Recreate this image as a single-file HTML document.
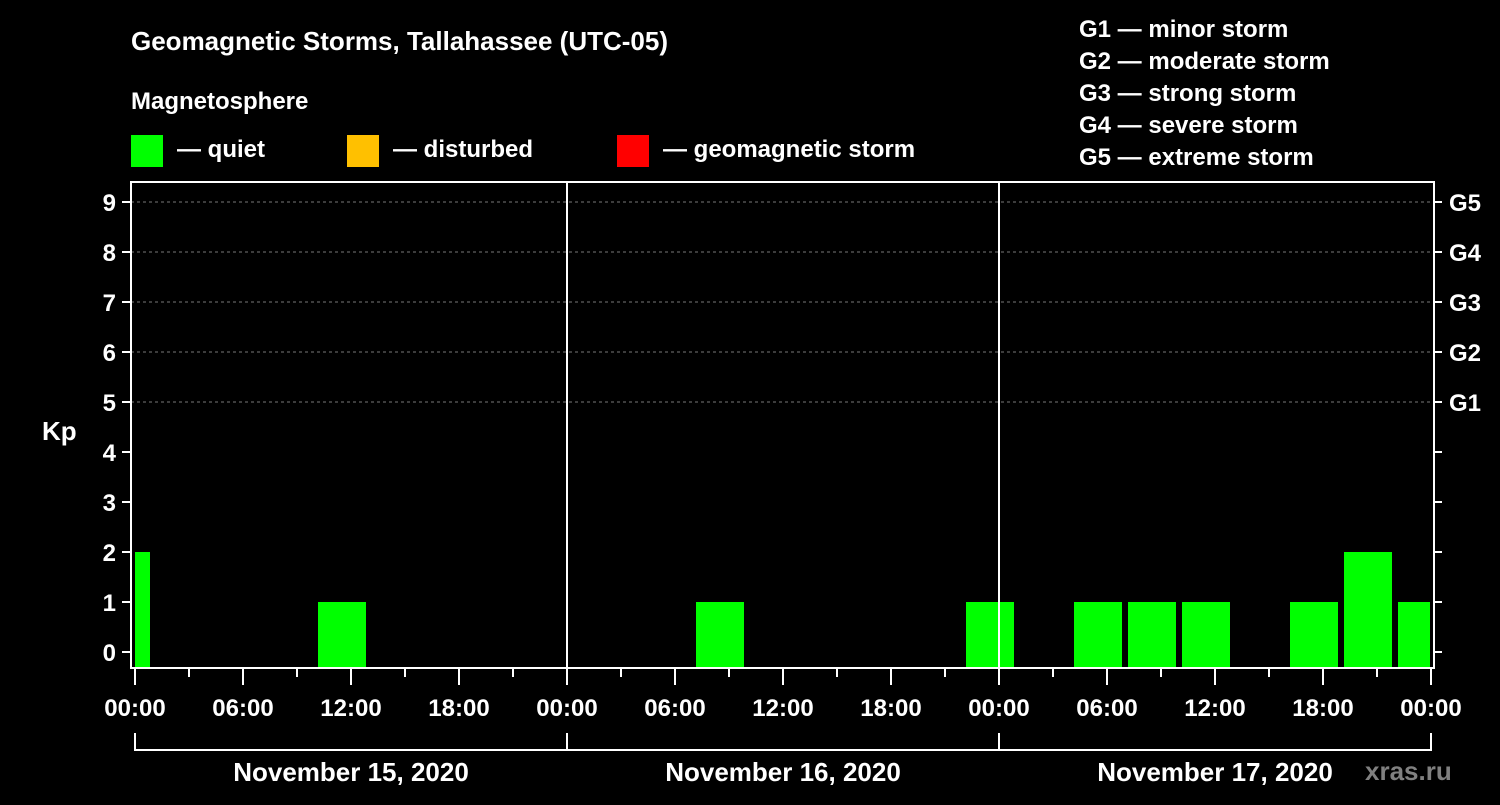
<!DOCTYPE html>
<html><head><meta charset="utf-8"><style>
body{margin:0;background:#000;width:1500px;height:800px;overflow:hidden}
svg text{font-family:"Liberation Sans",Arial,sans-serif;font-weight:bold;fill:#fff}
</style></head><body>
<svg id="c" width="1500" height="800">
<text x="131" y="50" font-size="26">Geomagnetic Storms, Tallahassee (UTC-05)</text>
<text x="131" y="109" font-size="24">Magnetosphere</text>
<g>
<rect x="131" y="135" width="32" height="32" fill="#00ff00"/>
<text x="177" y="157" font-size="24">— quiet</text>
<rect x="347" y="135" width="32" height="32" fill="#ffc000"/>
<text x="393" y="157" font-size="24">— disturbed</text>
<rect x="617" y="135" width="32" height="32" fill="#ff0000"/>
<text x="663" y="157" font-size="24">— geomagnetic storm</text>
</g>
<g font-size="24">
<text x="1079" y="37" font-size="24">G1 — minor storm</text>
<text x="1079" y="69" font-size="24">G2 — moderate storm</text>
<text x="1079" y="101" font-size="24">G3 — strong storm</text>
<text x="1079" y="133" font-size="24">G4 — severe storm</text>
<text x="1079" y="165" font-size="24">G5 — extreme storm</text>
</g>
<text x="42" y="440" font-size="26">Kp</text>
<text x="1365" y="780" font-size="26" fill="#777" style="fill:#808080">xras.ru</text>
<g id="plot"></g>
</svg>
<script>
const days = ["November 15, 2020","November 16, 2020","November 17, 2020"];
const binStartHours = [-2,10,31,46,52,55,58,64,67,70];
const kpValues = [2,1,1,1,1,1,1,1,2,1];
const hourTicks = ["00:00","06:00","12:00","18:00","00:00","06:00","12:00","18:00","00:00","06:00","12:00","18:00","00:00"];
const kpTicks = [0,1,2,3,4,5,6,7,8,9];
const gLabels = ["G1","G2","G3","G4","G5"];
const gLevels = [5,6,7,8,9];

const ns="http://www.w3.org/2000/svg", g=document.getElementById('plot');
const X0=135, PX_H=18, Y0=652, PX_K=50, TOP=182, BOT=668, L=131, R=1434;
const xs=h=>X0+h*PX_H, ys=k=>Y0-k*PX_K;
function mk(t,a,txt){const e=document.createElementNS(ns,t);for(const k in a)e.setAttribute(k,a[k]);if(txt!==undefined)e.textContent=txt;g.appendChild(e);return e;}
// grid
gLevels.forEach(k=>{const e=mk('line',{x1:L,x2:R,y1:ys(k),y2:ys(k),stroke:'#777','stroke-dasharray':'3,3','stroke-width':1});

});
// bars
binStartHours.forEach((h,i)=>{let x1=Math.max(xs(h)+3,X0),x2=Math.min(xs(h+3)-3,1430);
const e=mk('rect',{x:x1,y:ys(kpValues[i]),width:x2-x1,height:BOT-1-ys(kpValues[i]),fill:'#00ff00'});

});
// day separators
[1,2].forEach(d=>{const e=mk('line',{x1:xs(24*d),x2:xs(24*d),y1:TOP,y2:BOT,stroke:'#fff','stroke-width':2});

});
// frame
const f=mk('rect',{x:L,y:TOP,width:R-L,height:BOT-TOP,fill:'none',stroke:'#fff','stroke-width':2});


// y ticks
kpTicks.forEach(k=>{mk('line',{x1:122,x2:L,y1:ys(k),y2:ys(k),stroke:'#fff','stroke-width':2});
mk('line',{x1:R,x2:1442,y1:ys(k),y2:ys(k),stroke:'#fff','stroke-width':2});
const t=mk('text',{x:116,y:ys(k)+9,'font-size':24,'text-anchor':'end'},String(k));

});
gLevels.forEach((k,i)=>{const t=mk('text',{x:1449,y:ys(k)+9,'font-size':24},gLabels[i]);

});
// x ticks
for(let h=0;h<=72;h+=3){const major=h%6===0;mk('line',{x1:xs(h),x2:xs(h),y1:BOT,y2:major?685:677,stroke:'#fff','stroke-width':2});}
hourTicks.forEach((s,i)=>{const t=mk('text',{x:xs(i*6),y:716,'font-size':24,'text-anchor':'middle'},s);

});
// day brackets
days.forEach((d,i)=>{const a=xs(24*i),b=xs(24*(i+1));
mk('path',{d:`M${a},733V750H${b}V733`,stroke:'#fff','stroke-width':2,fill:'none'});
const t=mk('text',{x:(a+b)/2,y:781,'font-size':26,'text-anchor':'middle'},d);

});
</script>
</body></html>
